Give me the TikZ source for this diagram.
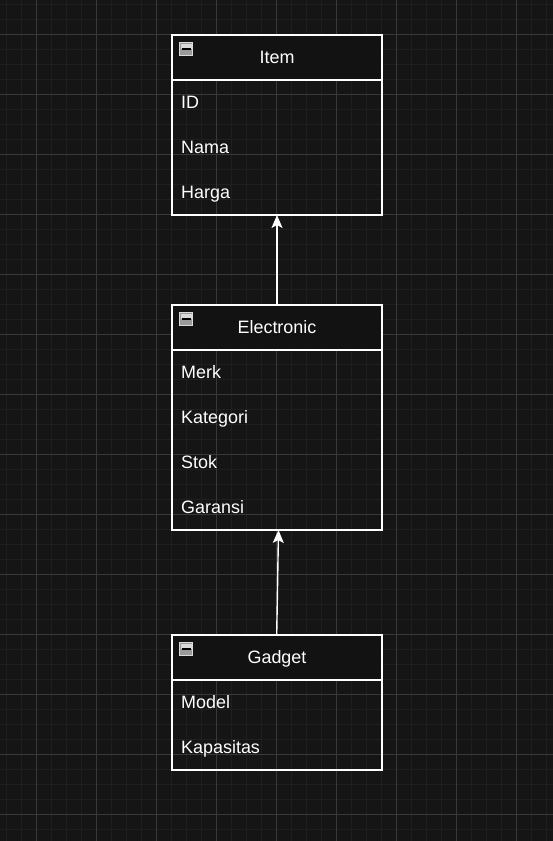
\documentclass[tikz,border=0pt]{standalone}
\usepackage{fontspec}
\setmainfont{Liberation Sans}
\usetikzlibrary{arrows.meta,calc}
\definecolor{bgc}{HTML}{151515}
\definecolor{hdc}{HTML}{121212}
\definecolor{minorc}{HTML}{1F1F1F}
\definecolor{majorc}{HTML}{393939}
\definecolor{iconlo}{HTML}{9A9A9A}
\definecolor{iconhi}{HTML}{DADADA}
\tikzset{
  classbox/.style={draw=white, line width=1.3bp, minimum width=210bp, inner sep=0pt, outer sep=0pt},
  hdrbox/.style={draw=white, fill=hdc, line width=1.3bp, minimum width=210bp, minimum height=45bp, inner sep=0pt, outer sep=0pt},
  ttl/.style={text=white, font=\fontsize{18}{20}\selectfont, anchor=base, inner sep=0pt},
  fld/.style={text=white, font=\fontsize{18}{20}\selectfont, anchor=base west, inner sep=0pt},
  inh/.style={draw=white, line width=1.4bp, -{Stealth[length=13bp,width=11bp,inset=3bp,fill=white]}},
}
\newcommand{\minusicon}[2]{%
  \fill[iconlo] (#1,#2) rectangle ++(13,13);
  \fill[iconhi] (#1+1,#2+1) rectangle ++(11,5.5);
  \draw[draw=iconhi, line width=0.8bp] (#1,#2) rectangle ++(13,13);
  \draw[black, line width=1.4bp] (#1+2,#2+6.5) -- ++(9,0);
}
\begin{document}
\begin{tikzpicture}[x=1bp,y=-1bp]
\fill[bgc] (0,0) rectangle (553,841);
\useasboundingbox (0,0) rectangle (553,841);
% grid
\foreach \gx in {6,21,...,546} \draw[minorc, line width=1bp] (\gx,0) -- (\gx,841);
\foreach \gy in {4,19,...,840} \draw[minorc, line width=1bp] (0,\gy) -- (553,\gy);
\foreach \gx in {36,96,...,540} \draw[majorc, line width=1bp] (\gx,0) -- (\gx,841);
\foreach \gy in {34,94,...,840} \draw[majorc, line width=1bp] (0,\gy) -- (553,\gy);

% Item
\node[classbox, minimum height=180bp] (item) at (277,125) {};
\node[hdrbox] (itemh) at (277,57.5) {};
\minusicon{179.5}{42.5}
\node[ttl] (itemt) at (277,63.5) {Item};
\node[fld] (f1) at (181,108) {ID};
\node[fld] (f2) at (181,153) {Nama};
\node[fld] (f3) at (181,198) {Harga};

% Electronic
\node[classbox, minimum height=225bp] (elec) at (277,417.5) {};
\node[hdrbox] (elech) at (277,327.5) {};
\minusicon{179.5}{312.5}
\node[ttl] (elect) at (277,333.5) {Electronic};
\node[fld] (e1) at (181,378) {Merk};
\node[fld] (e2) at (181,423) {Kategori};
\node[fld] (e3) at (181,468) {Stok};
\node[fld] (e4) at (181,513) {Garansi};

% Gadget
\node[classbox, minimum height=135bp] (gad) at (277,702.5) {};
\node[hdrbox] (gadh) at (277,657.5) {};
\minusicon{179.5}{642.5}
\node[ttl] (gadt) at (277,663.5) {Gadget};
\node[fld] (g1) at (181,708) {Model};
\node[fld] (g2) at (181,753) {Kapasitas};

% arrows
\draw[inh] (elech.north) -- (item.south);
\draw[inh] ([xshift=-0.3bp]gadh.north) -- ([xshift=1.5bp]elec.south);
\end{tikzpicture}
\end{document}
